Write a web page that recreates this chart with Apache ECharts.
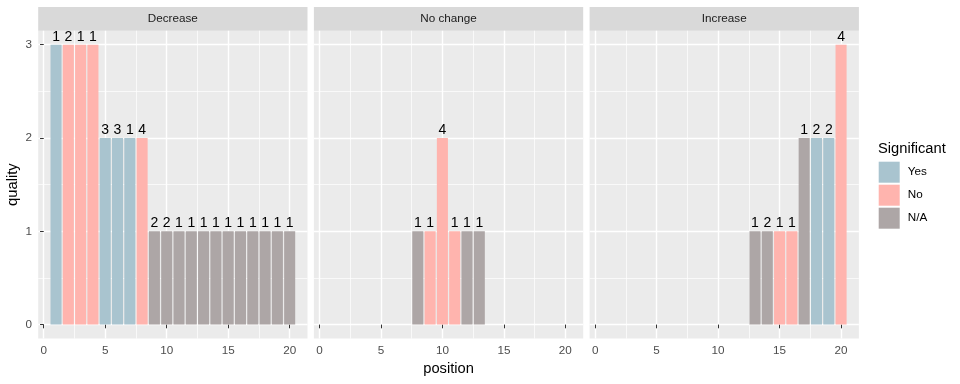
<!DOCTYPE html>
<html>
<head>
<meta charset="utf-8">
<script src="https://cdn.jsdelivr.net/npm/echarts@6/dist/echarts.min.js"></script>
<style>
html,body{margin:0;padding:0;background:#fff;}
#chart{width:960px;height:384px;}
</style>
</head>
<body>
<div id="chart"></div>
<script>
// ---- data ----
const panels = ['Decrease', 'No change', 'Increase'];
const sigLevels = ['Yes', 'No', 'N/A'];

const decPos     = [1,2,3,4,5,6,7,8,9,10,11,12,13,14,15,16,17,18,19,20];
const decQuality = [3,3,3,3,2,2,2,2,1,1,1,1,1,1,1,1,1,1,1,1];
const decSig     = ['Yes','No','No','No','Yes','Yes','Yes','No','N/A','N/A','N/A','N/A','N/A','N/A','N/A','N/A','N/A','N/A','N/A','N/A'];
const decCount   = [1,2,1,1,3,3,1,4,2,2,1,1,1,1,1,1,1,1,1,1];

const ncPos      = [8,9,10,11,12,13];
const ncQuality  = [1,1,2,1,1,1];
const ncSig      = ['N/A','No','No','No','N/A','N/A'];
const ncCount    = [1,1,4,1,1,1];

const incPos     = [13,14,15,16,17,18,19,20];
const incQuality = [1,1,1,1,2,2,2,3];
const incSig     = ['N/A','N/A','No','No','N/A','Yes','Yes','No'];
const incCount   = [1,2,1,1,1,2,2,4];

const xTicks = [0,5,10,15,20];
const xMinor = [2.5,7.5,12.5,17.5];
const yTicks = [0,1,2,3];
const yMinor = [0.5,1.5,2.5];

const panelData = [
  {pos: decPos, q: decQuality, sig: decSig, n: decCount},
  {pos: ncPos,  q: ncQuality,  sig: ncSig,  n: ncCount},
  {pos: incPos, q: incQuality, sig: incSig, n: incCount}
];

// ---- styling / layout ----
const colors = {'Yes': '#A9C4CF', 'No': '#FFB4AE', 'N/A': '#ADA6A6'};
const FONT = '"Liberation Sans", Arial, sans-serif';
const panelLefts = [38.2, 313.9, 589.6];
const panelW = 269.3;
const panelTop = 30.7;
const panelH = 307.9;
const stripTop = 6.9;
const xMin = -0.45, xMax = 21.45;
const yMin = -0.15, yMax = 3.15;
const barW = panelW / (xMax - xMin) * 0.9;

const grids = [], xAxes = [], yAxes = [], series = [], graphics = [];

panels.forEach((name, i) => {
  grids.push({left: panelLefts[i], top: panelTop, width: panelW, height: panelH,
    show: true, backgroundColor: '#EBEBEB', borderWidth: 0});
  // major x axis
  xAxes.push({type: 'value', gridIndex: i, min: xMin, max: xMax, position: 'bottom',
    axisLine: {show: false},
    axisTick: {show: true, length: 3.7, lineStyle: {color: '#333333', width: 1}, customValues: xTicks},
    axisLabel: {show: true, color: '#4D4D4D', fontSize: 11.7, fontFamily: FONT, margin: 6.3, customValues: xTicks},
    splitLine: {show: true, lineStyle: {color: '#FFFFFF', width: 1.4}}
  });
  // minor x axis (grid lines only)
  xAxes.push({type: 'value', gridIndex: i, min: xMin, max: xMax, position: 'top',
    axisLine: {show: false},
    axisTick: {show: false, customValues: xMinor},
    axisLabel: {show: false},
    splitLine: {show: true, lineStyle: {color: '#FFFFFF', width: 0.7}}
  });
  // major y axis
  yAxes.push({type: 'value', gridIndex: i, min: yMin, max: yMax, position: 'left',
    axisLine: {show: false},
    axisTick: {show: i === 0, length: 3.7, lineStyle: {color: '#333333', width: 1}, customValues: yTicks},
    axisLabel: {show: i === 0, color: '#4D4D4D', fontSize: 11.7, fontFamily: FONT, margin: 6.3, customValues: yTicks},
    splitLine: {show: true, lineStyle: {color: '#FFFFFF', width: 1.4}}
  });
  // minor y axis
  yAxes.push({type: 'value', gridIndex: i, min: yMin, max: yMax, position: 'right',
    axisLine: {show: false},
    axisTick: {show: false, customValues: yMinor},
    axisLabel: {show: false},
    splitLine: {show: true, lineStyle: {color: '#FFFFFF', width: 0.7}}
  });

  const d = panelData[i];
  sigLevels.forEach(s => {
    const data = [];
    d.pos.forEach((p, k) => {
      if (d.sig[k] === s) data.push([p, d.q[k], d.n[k]]);
    });
    series.push({
      name: s, type: 'bar', xAxisIndex: 2 * i, yAxisIndex: 2 * i,
      data: data, barWidth: barW, barGap: '-100%',
      itemStyle: {color: colors[s]},
      label: {show: true, position: 'top', distance: 1, color: '#000000',
        fontSize: 14, fontFamily: FONT, formatter: p => String(p.value[2])},
      emphasis: {disabled: true}, animation: false
    });
  });

  // strip
  graphics.push({type: 'rect', shape: {x: panelLefts[i], y: stripTop, width: panelW, height: panelTop - stripTop},
    style: {fill: '#D9D9D9'}, silent: true});
  graphics.push({type: 'text', x: panelLefts[i] + panelW / 2, y: (stripTop + panelTop) / 2,
    style: {text: name, fill: '#1A1A1A', font: '11.7px ' + FONT, align: 'center', verticalAlign: 'middle'}, silent: true});
});

// axis titles
graphics.push({type: 'text', x: (panelLefts[0] + panelLefts[2] + panelW) / 2, y: 369,
  style: {text: 'position', fill: '#000000', font: '14.7px ' + FONT, align: 'center', verticalAlign: 'middle'}});
graphics.push({type: 'text', x: 13, y: panelTop + panelH / 2, rotation: Math.PI / 2,
  style: {text: 'quality', fill: '#000000', font: '14.7px ' + FONT, align: 'center', verticalAlign: 'middle'}});
// legend title
graphics.push({type: 'text', x: 878, y: 149,
  style: {text: 'Significant', fill: '#000000', font: '14.7px ' + FONT, align: 'left', verticalAlign: 'middle'}});

const chart = echarts.init(document.getElementById('chart'), null, {renderer: 'canvas'});
chart.setOption({
  animation: false,
  backgroundColor: '#FFFFFF',
  grid: grids, xAxis: xAxes, yAxis: yAxes, series: series,
  legend: {data: sigLevels, orient: 'vertical', left: 878.7, top: 161.7,
    itemWidth: 21, itemHeight: 21, itemGap: 2, icon: 'rect', selectedMode: false,
    textStyle: {color: '#000000', fontSize: 11.7, fontFamily: FONT, padding: [0, 0, 0, 3]},
    padding: 0},
  graphic: graphics
});
</script>
</body>
</html>
